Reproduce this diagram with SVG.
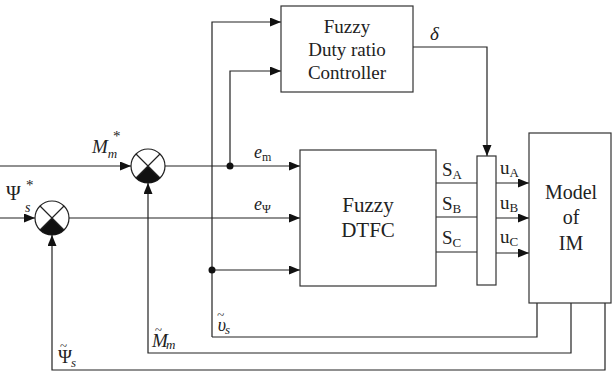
<svg xmlns="http://www.w3.org/2000/svg" width="612" height="376" viewBox="0 0 612 376" font-family="'Liberation Serif', 'Times New Roman', serif">
<style>
.ln{fill:none;stroke:#222;stroke-width:1.2}
.bx{fill:#fff;stroke:#333;stroke-width:1.2}
text{font-family:'Liberation Serif','Times New Roman',serif;fill:#222}
.c{text-anchor:middle}
.i{font-style:italic}
</style>
<defs>
<marker id="ar" markerUnits="userSpaceOnUse" markerWidth="12" markerHeight="10" refX="11" refY="4.5" orient="auto">
<path d="M0,0 L11,4.5 L0,9 z" fill="#111"/>
</marker>
</defs>
<rect width="612" height="376" fill="#fff"/>

<g id="connectors">
<path class="ln" d="M0,166 H131" marker-end="url(#ar)"/>
<path class="ln" d="M0,218 H35" marker-end="url(#ar)"/>
<path class="ln" d="M165,166 H300" marker-end="url(#ar)"/>
<path class="ln" d="M69,218 H300" marker-end="url(#ar)"/>
<path class="ln" d="M212,270 H300" marker-end="url(#ar)"/>
<path class="ln" d="M212,337 V22 H281" marker-end="url(#ar)"/>
<path class="ln" d="M230,166 V71 H281" marker-end="url(#ar)"/>
<path class="ln" d="M413,47 H487 V156" marker-end="url(#ar)"/>
<path class="ln" d="M436,183 H477 M436,217 H477 M436,252 H477"/>
<path class="ln" d="M496,183 H529" marker-end="url(#ar)"/>
<path class="ln" d="M496,218 H529" marker-end="url(#ar)"/>
<path class="ln" d="M496,253 H529" marker-end="url(#ar)"/>
<path class="ln" d="M537,303 V337 H212"/>
<path class="ln" d="M571,303 V353 H148 V183" marker-end="url(#ar)"/>
<path class="ln" d="M605,303 V370 H52 V235" marker-end="url(#ar)"/>
<circle cx="230" cy="166" r="3.5" fill="#111"/>
<circle cx="212" cy="270" r="3.5" fill="#111"/>
</g>

<g id="sum_m">
<circle cx="148" cy="166" r="17" fill="#fff" stroke="#222" stroke-width="1.2"/>
<path d="M148,166 L136,178 A17,17 0 0 0 160,178 Z" fill="#111"/>
<path class="ln" d="M136,154 L160,178 M160,154 L136,178"/>
</g>
<g id="sum_psi">
<circle cx="52" cy="218" r="17" fill="#fff" stroke="#222" stroke-width="1.2"/>
<path d="M52,218 L40,230 A17,17 0 0 0 64,230 Z" fill="#111"/>
<path class="ln" d="M40,206 L64,230 M64,206 L40,230"/>
</g>

<g id="duty_controller">
<rect class="bx" x="281" y="6" width="132" height="86"/>
<text class="c" x="347" y="33" font-size="19">Fuzzy</text>
<text class="c" x="347" y="56" font-size="19">Duty ratio</text>
<text class="c" x="347" y="79" font-size="19">Controller</text>
</g>

<g id="dtfc">
<rect class="bx" x="300" y="150" width="136" height="136"/>
<text class="c" x="368" y="212" font-size="21">Fuzzy</text>
<text class="c" x="368" y="237" font-size="21">DTFC</text>
</g>

<g id="mux">
<rect class="bx" x="477" y="156" width="19" height="129"/>
</g>

<g id="model">
<rect class="bx" x="529" y="133" width="82" height="170"/>
<text class="c" x="571" y="199" font-size="20">Model</text>
<text class="c" x="571" y="224" font-size="20">of</text>
<text class="c" x="571" y="250" font-size="20">IM</text>
</g>

<g id="labels">
<text class="i" x="92" y="153" font-size="19">M<tspan font-size="13" dy="5">m</tspan></text>
<text x="113" y="141" font-size="15">*</text>
<text x="6" y="200" font-size="20">Ψ</text>
<text class="i" x="25" y="212" font-size="14">s</text>
<text x="26" y="190" font-size="15">*</text>
<text class="i" x="430" y="40" font-size="19">δ</text>
<text x="254" y="158" font-size="18"><tspan class="i">e</tspan><tspan font-size="12" dy="3">m</tspan></text>
<text x="254" y="210" font-size="18"><tspan class="i">e</tspan><tspan font-size="12" dy="3">Ψ</tspan></text>
<text x="442" y="176" font-size="19">S<tspan font-size="13" dy="3">A</tspan></text>
<text x="442" y="210" font-size="19">S<tspan font-size="13" dy="3">B</tspan></text>
<text x="442" y="244" font-size="19">S<tspan font-size="13" dy="3">C</tspan></text>
<text x="500" y="174" font-size="19">u<tspan font-size="13" dy="3">A</tspan></text>
<text x="500" y="209" font-size="19">u<tspan font-size="13" dy="3">B</tspan></text>
<text x="500" y="243" font-size="19">u<tspan font-size="13" dy="3">C</tspan></text>
<text class="i" x="217" y="331" font-size="18">υ<tspan font-size="13" dx="-9" dy="-12">~</tspan><tspan font-size="13" dx="1" dy="15">s</tspan></text>
<text class="i" x="152" y="347" font-size="19">M<tspan font-size="13" dx="-13" dy="-13">~</tspan><tspan font-size="13" dx="4" dy="15">m</tspan></text>
<text x="58" y="363" font-size="19">Ψ<tspan font-size="13" dx="-12" dy="-13">~</tspan><tspan class="i" font-size="13" dx="4" dy="17">s</tspan></text>
</g>
</svg>
